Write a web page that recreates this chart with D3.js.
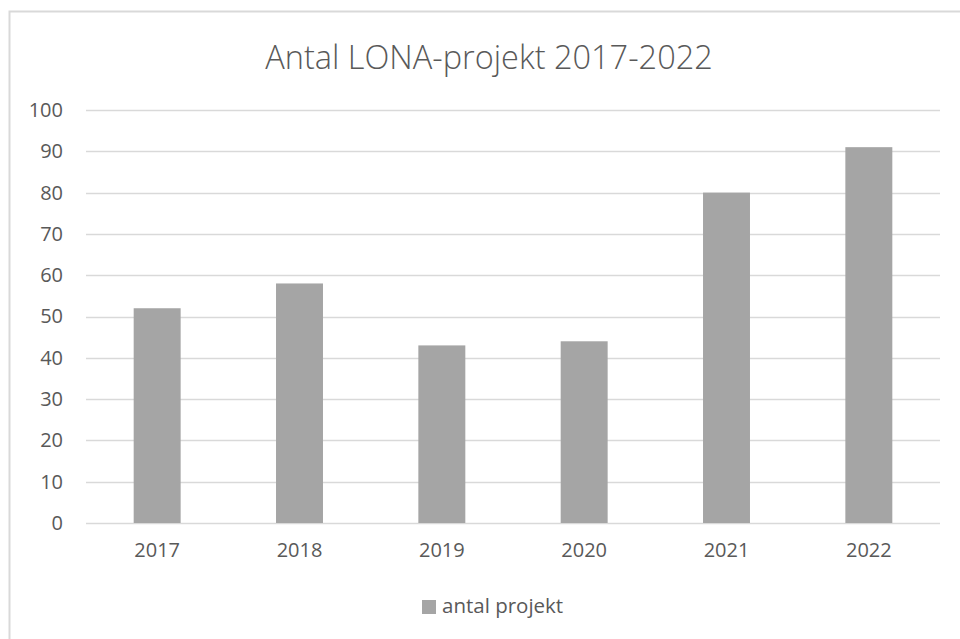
<!DOCTYPE html>
<html>
<head>
<meta charset="utf-8">
<script src="https://cdn.jsdelivr.net/npm/d3@7"></script>
<style>
  body { margin: 0; background: #fff; }
  text { font-family: "Open Sans", "Liberation Sans", sans-serif; fill: #595959; }
</style>
</head>
<body>
<div id="graphic"></div>
<script>
var years = ["2017", "2018", "2019", "2020", "2021", "2022"];
var projects = [52, 58, 43, 44, 80, 91];
var yTicks = [0, 10, 20, 30, 40, 50, 60, 70, 80, 90, 100];
var seriesName = "antal projekt";
var title = "Antal LONA-projekt 2017-2022";

var W = 960, H = 639;
var margin = {top: 110, right: 20, bottom: 116, left: 86};
var width = W - margin.left - margin.right,
    height = H - margin.top - margin.bottom;

var svg = d3.select("#graphic").append("svg")
    .attr("width", W)
    .attr("height", H);

// chart frame (runs off the right and bottom edges)
svg.append("rect")
    .attr("x", 9.5).attr("y", 11.5)
    .attr("width", W + 20).attr("height", H + 20)
    .attr("fill", "#fff")
    .attr("stroke", "#d9d9d9")
    .attr("stroke-width", 2);

var canvas = svg.append("g")
    .attr("transform", "translate(" + margin.left + "," + margin.top + ")");

var x = d3.scaleBand()
    .domain(years)
    .range([0, width])
    .paddingInner(0.67)
    .paddingOuter(0.335);

var y = d3.scaleLinear()
    .domain([0, 100])
    .range([height, 0]);

// gridlines
canvas.append("g")
    .selectAll("line")
    .data(yTicks)
    .enter().append("line")
    .attr("x1", 0).attr("x2", width)
    .attr("y1", d => Math.round(y(d)) + 0.5)
    .attr("y2", d => Math.round(y(d)) + 0.5)
    .attr("stroke", "#d9d9d9")
    .attr("stroke-width", 1.5);

// y labels
var yAxis = d3.axisLeft(y).tickValues(yTicks).tickSize(0).tickPadding(23);
var gy = canvas.append("g").call(yAxis);
gy.select(".domain").remove();
gy.selectAll("text").style("font-size", "20px").attr("fill", "#595959");

// bars
canvas.selectAll(".bar")
    .data(projects)
    .enter().append("rect")
    .attr("class", "bar")
    .attr("x", (d, i) => x(years[i]))
    .attr("width", x.bandwidth())
    .attr("y", d => y(d))
    .attr("height", d => y(0) - y(d))
    .attr("fill", "#a5a5a5");

// x labels
var xAxis = d3.axisBottom(x).tickSize(0).tickPadding(20);
var gx = canvas.append("g")
    .attr("transform", "translate(0," + height + ")")
    .call(xAxis);
gx.select(".domain").remove();
gx.selectAll("text").style("font-size", "20px").attr("fill", "#595959");

// title
svg.append("text")
    .attr("x", 489)
    .attr("y", 69)
    .attr("text-anchor", "middle")
    .style("font-size", "32.5px")
    .style("font-weight", 300)
    .text(title);

// legend
var legend = svg.append("g").attr("transform", "translate(422,600)");
legend.append("rect")
    .attr("width", 14).attr("height", 14)
    .attr("fill", "#a5a5a5");
legend.append("text")
    .attr("x", 20).attr("y", 13)
    .style("font-size", "20.5px")
    .text(seriesName);
</script>
</body>
</html>
